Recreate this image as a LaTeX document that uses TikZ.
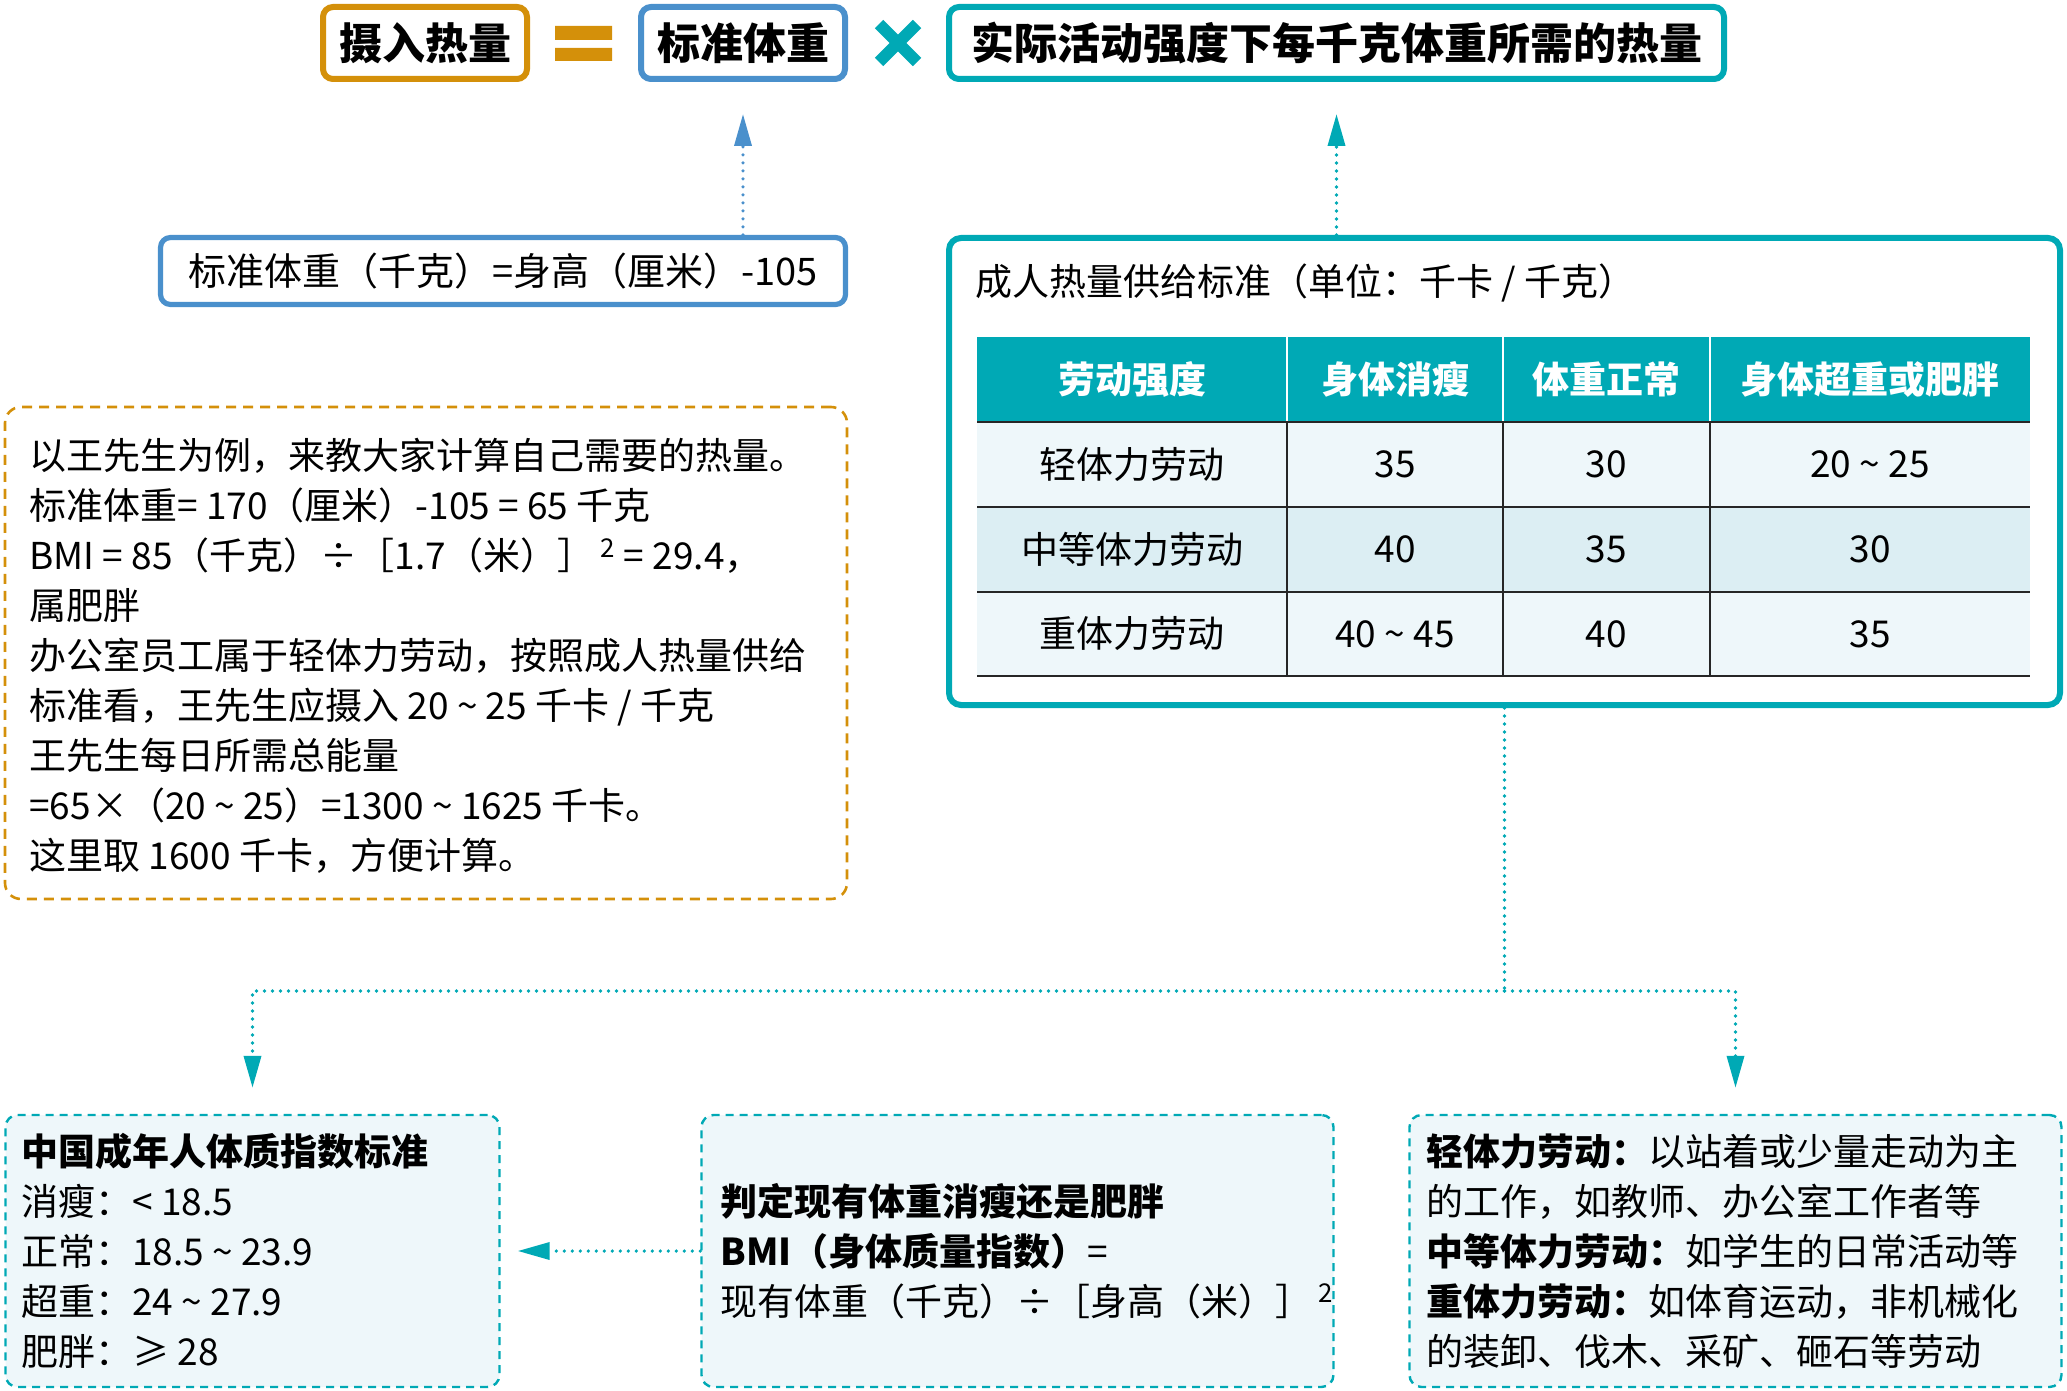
\documentclass[tikz,border=0pt]{standalone}
\usepackage{fontspec}
\setmainfont{Noto Sans CJK SC}
\usepackage{xcolor}
\usepackage{tikz}
\usetikzlibrary{arrows.meta,positioning,calc}
\definecolor{warm}{HTML}{D4900A}
\definecolor{sky}{HTML}{4A90CC}
\definecolor{aqua}{HTML}{00A9B5}
\definecolor{paleA}{HTML}{EEF7FA}
\definecolor{paleB}{HTML}{DCEEF3}
\definecolor{ink}{HTML}{262626}
\newcommand{\tld}{\ \textasciitilde\ }
\newcommand{\sqr}{\,\textsuperscript{2}}

\begin{document}
\begin{tikzpicture}[
  x=0.5pt, y=-0.5pt,
  head/.style={
    draw=#1, line width=3pt, rounded corners=5pt, fill=white,
    minimum height=36pt, inner sep=0pt,
    font=\fontsize{21.5}{26}\selectfont\bfseries
  },
  body/.style={font=\fontsize{18.5}{25}\selectfont, inner sep=0pt},
  txt/.style={body, align=left, anchor=west},
  cell/.style={body},
  thead/.style={body, text=white, font=\fontsize{18.5}{25}\selectfont\bfseries},
  bot/.style={
    draw=aqua, line width=1.2pt, dash pattern=on 4pt off 3pt,
    fill=paleA, rounded corners=6pt, minimum height=136pt
  },
  dots/.style={line width=1.8pt, line cap=round, dash pattern=on 0pt off 4pt},
  tip/.style={-{Triangle[length=16pt,width=8.5pt]}}
]
  \useasboundingbox (0,0) rectangle (2067,1391);

  % Top row: intake = standard weight x energy per kg
  \node[head=warm, minimum width=102pt]   (intake) at (425,43)    {摄入热量};
  \node[head=sky,  minimum width=102pt]   (stdw)   at (743,43)    {标准体重};
  \node[head=aqua, minimum width=387.5pt] (need)   at (1336.5,43) {实际活动强度下每千克体重所需的热量};
  \fill[warm] (555,26) rectangle (612,40) (555,48) rectangle (612,61);
  \draw[aqua, line width=6pt] (879,24) -- (917,62) (917,24) -- (879,62);

  % Standard weight formula
  \node[draw=sky, line width=2.6pt, rounded corners=5pt, fill=white,
        minimum width=342.5pt, minimum height=33.5pt, body,
        font=\fontsize{19}{25}\selectfont] (formula) at (503,271)
        {标准体重（千克）=身高（厘米）-105};

  % Energy supply table
  \node[draw=aqua, line width=3pt, rounded corners=6pt, fill=white,
        minimum width=555.5pt, minimum height=233.5pt] (supply) at (1504.5,471.5) {};
  \node[txt] (supTitle) at (975,283) {成人热量供给标准（单位：千卡 / 千克）};
  \fill[aqua]  (977,337) rectangle (2030,422);
  \fill[paleA] (977,422) rectangle (2030,507);
  \fill[paleB] (977,507) rectangle (2030,592);
  \fill[paleA] (977,592) rectangle (2030,676);
  \foreach \cx in {1287,1503,1710} {
    \draw[white, line width=1pt] (\cx,337) -- (\cx,422);
    \draw[ink, line width=0.6pt] (\cx,422) -- (\cx,676);
  }
  \foreach \ry in {422,507,592,676}
    \draw[ink, line width=1pt] (977,\ry) -- (2030,\ry);
  \foreach \cx/\t [count=\i] in {1132/劳动强度, 1395/身体消瘦, 1606.5/体重正常, 1870/身体超重或肥胖}
    \node[thead] (h\i) at (\cx,379.5) {\t};
  \foreach \cy/\a/\b/\c/\d [count=\r] in {
      464.5/轻体力劳动/35/30/20\tld25,
      549.5/中等体力劳动/40/35/30,
      634/重体力劳动/40\tld45/40/35} {
    \node[cell] (r\r c1) at (1132,\cy)   {\a};
    \node[cell] (r\r c2) at (1395,\cy)   {\b};
    \node[cell] (r\r c3) at (1606.5,\cy) {\c};
    \node[cell] (r\r c4) at (1870,\cy)   {\d};
  }

  % Worked example
  \node[draw=warm, line width=1.3pt, dash pattern=on 5pt off 3.5pt, rounded corners=8pt,
        minimum width=421pt, minimum height=246pt] (example) at (426,653) {};
  \node[txt] (exText) at (29,656) {%
    以王先生为例，来教大家计算自己需要的热量。\\
    标准体重= 170（厘米）-105 = 65 千克\\
    BMI = 85（千克）÷［1.7（米）］\sqr{} = 29.4，\\
    属肥胖\\
    办公室员工属于轻体力劳动，按照成人热量供给\\
    标准看，王先生应摄入 20\tld25 千卡 / 千克\\
    王先生每日所需总能量\\
    =65×（20\tld25）=1300\tld1625 千卡。\\
    这里取 1600 千卡，方便计算。};

  % Bottom row
  \node[bot, minimum width=247pt] (bmiStd)  at (252.5,1251)  {};
  \node[bot, minimum width=316pt] (bmiCalc) at (1017.5,1251) {};
  \node[bot, minimum width=326pt] (labour)  at (1735.5,1251) {};
  \node[txt] (bmiStdText) at (21,1251) {%
    \textbf{中国成年人体质指数标准}\\
    消瘦：< 18.5\\
    正常：18.5\tld23.9\\
    超重：24\tld27.9\\
    肥胖：≥ 28};
  \node[txt] (bmiCalcText) at (720,1251) {%
    \textbf{判定现有体重消瘦还是肥胖}\\
    \textbf{BMI（身体质量指数）}=\\
    现有体重（千克）÷［身高（米）］\sqr};
  \node[txt] (labourText) at (1426,1251) {%
    \textbf{轻体力劳动：}以站着或少量走动为主\\
    的工作，如教师、办公室工作者等\\
    \textbf{中等体力劳动：}如学生的日常活动等\\
    \textbf{重体力劳动：}如体育运动，非机械化\\
    的装卸、伐木、采矿、砸石等劳动};

  % Connectors
  \draw[dots, sky, tip, shorten >=16pt] (formula.north -| stdw.south) -- (stdw.south);
  \draw[dots, aqua, tip, shorten >=16pt] (supply.north -| need.south) -- (need.south);
  \coordinate (split) at ([yshift=-141.5pt]supply.south);
  \draw[dots, aqua] (supply.south) -- (split);
  \draw[dots, aqua, tip, shorten >=13pt] (split) -| (bmiStd.north);
  \draw[dots, aqua, tip, shorten >=13pt] (split) -| (labour.north);
  \draw[dots, aqua, tip, shorten >=8.5pt] (bmiCalc.west) -- (bmiStd.east);
\end{tikzpicture}
\end{document}
